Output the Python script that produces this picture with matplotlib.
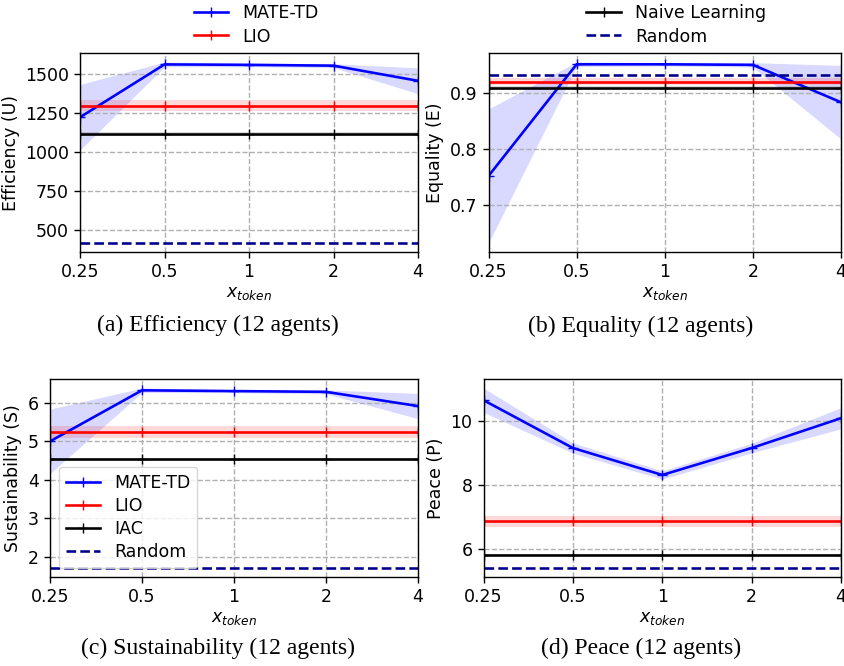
import matplotlib
matplotlib.use("Agg")
import matplotlib.pyplot as plt

x_token = [0.25, 0.5, 1, 2, 4]
x_labels = ['0.25', '0.5', '1', '2', '4']

# efficiency (U)
eff_mate = [1222, 1560, 1557, 1552, 1455]
eff_mate_std = [210, 15, 12, 12, 83]
eff_lio = [1295, 1295, 1295, 1295, 1295]
eff_lio_std = [35, 35, 35, 35, 35]
eff_naive = [1117, 1117, 1117, 1117, 1117]
eff_naive_std = [12, 12, 12, 12, 12]
eff_random = 418
eff_ticks = [500, 750, 1000, 1250, 1500]

# equality (E)
eq_mate = [0.752, 0.952, 0.952, 0.951, 0.884]
eq_mate_std = [0.12, 0.004, 0.003, 0.004, 0.066]
eq_lio = [0.921, 0.921, 0.921, 0.921, 0.921]
eq_lio_std = [0.006, 0.006, 0.006, 0.006, 0.006]
eq_naive = [0.910, 0.910, 0.910, 0.910, 0.910]
eq_naive_std = [0.004, 0.004, 0.004, 0.004, 0.004]
eq_random = 0.933
eq_ticks = [0.7, 0.8, 0.9]

# sustainability (S)
sus_mate = [5.00, 6.33, 6.31, 6.29, 5.92]
sus_mate_std = [0.84, 0.06, 0.04, 0.05, 0.33]
sus_lio = [5.25, 5.25, 5.25, 5.25, 5.25]
sus_lio_std = [0.15, 0.15, 0.15, 0.15, 0.15]
sus_iac = [4.53, 4.53, 4.53, 4.53, 4.53]
sus_iac_std = [0.04, 0.04, 0.04, 0.04, 0.04]
sus_random = 1.70
sus_ticks = [2, 3, 4, 5, 6]

# peace (P)
peace_mate = [10.65, 9.16, 8.32, 9.16, 10.09]
peace_mate_std = [0.38, 0.16, 0.13, 0.15, 0.33]
peace_lio = [6.87, 6.87, 6.87, 6.87, 6.87]
peace_lio_std = [0.16, 0.16, 0.16, 0.16, 0.16]
peace_iac = [5.82, 5.82, 5.82, 5.82, 5.82]
peace_iac_std = [0.04, 0.04, 0.04, 0.04, 0.04]
peace_random = 5.42
peace_ticks = [6, 8, 10]

# original subfigures were scaled up ~1.25x
s = 1.25
plt.rcParams['font.size'] = 10 * s
plt.rcParams['xtick.major.size'] = 3.5 * s
plt.rcParams['ytick.major.size'] = 3.5 * s
plt.rcParams['xtick.major.width'] = 0.8 * s
plt.rcParams['ytick.major.width'] = 0.8 * s
plt.rcParams['axes.linewidth'] = 0.8 * s
plt.rcParams['grid.linewidth'] = 0.8 * s


def band(ax, mean, std, color, label):
    lo = [m - v for m, v in zip(mean, std)]
    hi = [m + v for m, v in zip(mean, std)]
    ax.plot(x_token, mean, color=color, marker='+', lw=1.5 * s, ms=6 * s, label=label)
    ax.fill_between(x_token, lo, hi, color=color, alpha=0.15, lw=0)


def panel(ax, mate, mate_std, lio, lio_std, base, base_std, base_name, rnd, ylabel, yticks):
    band(ax, mate, mate_std, 'blue', 'MATE-TD')
    band(ax, lio, lio_std, 'red', 'LIO')
    band(ax, base, base_std, 'black', base_name)
    ax.plot(x_token, [rnd] * len(x_token), color='darkblue', ls='--', lw=1.5 * s, label='Random')
    ax.set_xscale('log', base=2)
    ax.set_xticks(x_token)
    ax.set_xticklabels(x_labels)
    ax.minorticks_off()
    ax.set_xlim(0.25, 4)
    ax.set_yticks(yticks)
    ax.set_xlabel(r'$x_{token}$', labelpad=2)
    ax.set_ylabel(ylabel)
    ax.grid(True, ls='--')


fig = plt.figure(figsize=(8.44, 6.66), dpi=100)
ax1 = fig.add_axes([0.0948, 0.6216, 0.4005, 0.2988])
ax2 = fig.add_axes([0.5788, 0.6216, 0.4176, 0.2988])
ax3 = fig.add_axes([0.0592, 0.1336, 0.4361, 0.2973])
ax4 = fig.add_axes([0.5729, 0.1336, 0.4236, 0.2973])

panel(ax1, eff_mate, eff_mate_std, eff_lio, eff_lio_std, eff_naive, eff_naive_std,
      'Naive Learning', eff_random, 'Efficiency (U)', eff_ticks)
panel(ax2, eq_mate, eq_mate_std, eq_lio, eq_lio_std, eq_naive, eq_naive_std,
      'Naive Learning', eq_random, 'Equality (E)', eq_ticks)
panel(ax3, sus_mate, sus_mate_std, sus_lio, sus_lio_std, sus_iac, sus_iac_std,
      'IAC', sus_random, 'Sustainability (S)', sus_ticks)
panel(ax4, peace_mate, peace_mate_std, peace_lio, peace_lio_std, peace_iac, peace_iac_std,
      'IAC', peace_random, 'Peace (P)', peace_ticks)

h, l = ax1.get_legend_handles_labels()
fig.legend(h[:2], l[:2], loc='upper left', bbox_to_anchor=(0.211, 1.017),
           frameon=False, labelspacing=0.3)
fig.legend(h[2:], l[2:], loc='upper left', bbox_to_anchor=(0.676, 1.017),
           frameon=False, labelspacing=0.3)
ax3.legend(loc='lower left', labelspacing=0.3)

cap = dict(family='Liberation Serif', fontsize=17, ha='center', va='center')
fig.text(218 / 844, 1 - 325 / 666, '(a) Efficiency (12 agents)', **cap)
fig.text(641 / 844, 1 - 326 / 666, '(b) Equality (12 agents)', **cap)
fig.text(218 / 844, 1 - 648 / 666, '(c) Sustainability (12 agents)', **cap)
fig.text(641 / 844, 1 - 648 / 666, '(d) Peace (12 agents)', **cap)

fig.savefig('out.png', dpi=100)
